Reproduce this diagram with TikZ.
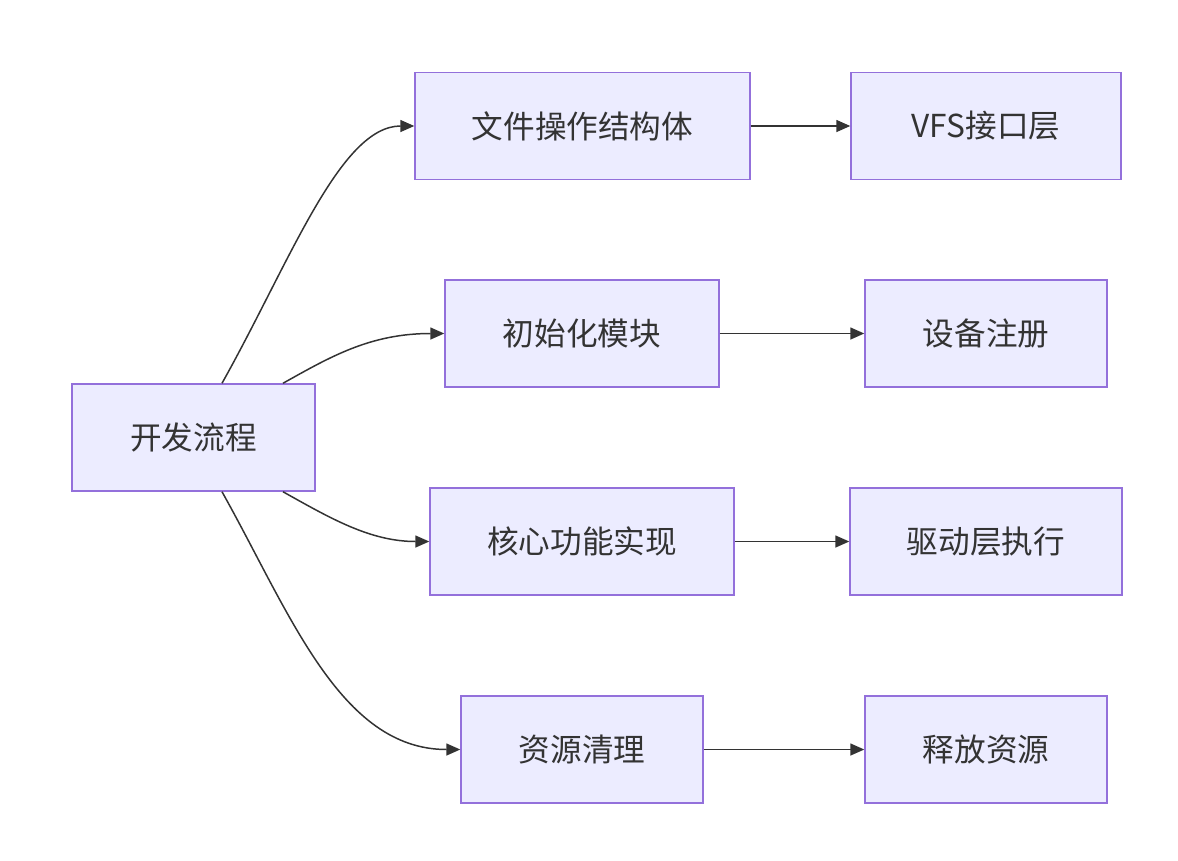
\documentclass[tikz,border=0pt]{standalone}
\usepackage{fontspec}
\setmainfont{Noto Sans CJK SC}
\usetikzlibrary{arrows.meta}
\definecolor{boxFill}{HTML}{ECECFF}
\definecolor{boxLine}{HTML}{9370DB}
\definecolor{inkGrey}{HTML}{333333}

\begin{document}
\begin{tikzpicture}
[x=0.02cm,y=-0.02cm,%
  boxDecorate/.style={shape=rectangle,draw=boxLine,fill=boxFill,line width=0.85pt,
    minimum height=2.14cm,text=inkGrey,font=\fontsize{18}{22}\selectfont},%
  lineDecorate/.style={-{Triangle[length=0.28cm,width=0.24cm]},line width=0.85pt,draw=inkGrey}]
\useasboundingbox (0,0) rectangle (1178,860);
%% boxes
\foreach \nodename/\x/\y/\w/\txt in {dev/193.5/437.5/4.86/开发流程,
  file/582.5/126/6.70/文件操作结构体, vfs/986/126/5.40/VFS接口层,
  init/582/333.5/5.48/初始化模块, reg/986/333.5/4.84/设备注册,
  core/582/541.5/6.08/核心功能实现, drv/986/541.5/5.44/驱动层执行,
  clean/582/749.5/4.84/资源清理, free/986/749.5/4.84/释放资源}
{
  \node (\nodename) at (\x,\y) [boxDecorate,minimum width=\w cm] {\txt};
}
%% curved links out of the start box
\coordinate (devA) at ([xshift=0.57cm]dev.north);
\coordinate (devB) at ([xshift=1.79cm]dev.north);
\coordinate (devC) at ([xshift=1.79cm]dev.south);
\coordinate (devD) at ([xshift=0.57cm]dev.south);
\draw[lineDecorate] (devA) .. controls (290,262) and (340,126) .. (file.west);
\draw[lineDecorate] (devB) .. controls (330,357) and (370,333.5) .. (init.west);
\draw[lineDecorate] (devC) .. controls (330,518) and (370,541.5) .. (core.west);
\draw[lineDecorate] (devD) .. controls (290,613) and (340,749.5) .. (clean.west);
%% straight links
\path
\foreach \startnode/\endnode in {file/vfs, init/reg, core/drv, clean/free}
{
  (\startnode) edge[lineDecorate] (\endnode)
};
\end{tikzpicture}
\end{document}
